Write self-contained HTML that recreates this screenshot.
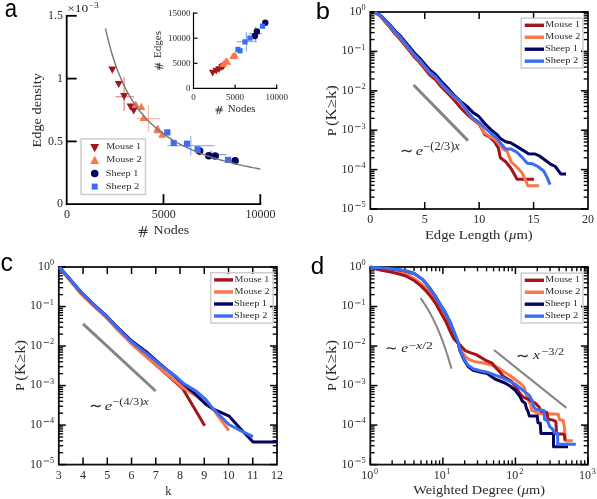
<!DOCTYPE html>
<html><head><meta charset="utf-8"><style>
html,body{margin:0;padding:0;background:#fff;}
body{width:597px;height:499px;overflow:hidden;}
svg{display:block;filter:blur(0.35px);}
</style></head><body>
<svg width="597" height="499" viewBox="0 0 597 499">
<text transform="translate(4.64,16.96) scale(0.8523,0.9754)" font-size="26" font-family="Liberation Sans" fill="#000" >a</text>
<text transform="translate(315.71,19.06) scale(0.9787,0.9412)" font-size="26" font-family="Liberation Sans" fill="#000" >b</text>
<text transform="translate(0.47,270.96) scale(0.9573,0.9754)" font-size="26" font-family="Liberation Sans" fill="#000" >c</text>
<text transform="translate(310.85,273.57) scale(0.9290,0.9307)" font-size="26" font-family="Liberation Sans" fill="#000" >d</text>
<text transform="translate(40.91,147.51) rotate(-90) scale(1.1039,0.9787)" font-size="13" font-family="Liberation Serif" fill="#2a2a2a" >Edge density</text>
<text transform="translate(153.60,234.48) scale(1.0749,0.9644)" font-size="13" font-family="Liberation Serif" fill="#2a2a2a" >Nodes</text>
<text transform="translate(424.88,239.14) scale(1.1327,1.0383)" font-size="13" font-family="Liberation Serif" fill="#2a2a2a" >Edge Length (<tspan font-style="italic">μ</tspan>m)</text>
<text transform="translate(413.20,494.14) scale(1.1104,1.0383)" font-size="13" font-family="Liberation Serif" fill="#2a2a2a" >Weighted Degree (<tspan font-style="italic">μ</tspan>m)</text>
<text transform="translate(165.16,494.70) scale(0.9440,1.0222)" font-size="13" font-family="Liberation Serif" fill="#2a2a2a" >k</text>
<text transform="translate(335.82,136.21) rotate(-90) scale(1.0980,0.9791)" font-size="13" font-family="Liberation Serif" fill="#2a2a2a" >P</text>
<text transform="translate(336.13,126.11) rotate(-90) scale(1.2951,1.0809)" font-size="13" font-family="Liberation Serif" fill="#2a2a2a" >(K≥k)</text>
<text transform="translate(24.22,390.96) rotate(-90) scale(1.0980,0.9791)" font-size="13" font-family="Liberation Serif" fill="#2a2a2a" >P</text>
<text transform="translate(24.53,380.86) rotate(-90) scale(1.2951,1.0809)" font-size="13" font-family="Liberation Serif" fill="#2a2a2a" >(K≥k)</text>
<text transform="translate(335.62,391.11) rotate(-90) scale(1.0980,0.9791)" font-size="13" font-family="Liberation Serif" fill="#2a2a2a" >P</text>
<text transform="translate(335.93,381.01) rotate(-90) scale(1.2951,1.0809)" font-size="13" font-family="Liberation Serif" fill="#2a2a2a" >(K≥k)</text>
<text transform="translate(227.73,112.47) scale(1.0894,1.0143)" font-size="10" font-family="Liberation Serif" fill="#2a2a2a" >Nodes</text>
<text transform="translate(161.48,58.08) rotate(-90) scale(1.1099,1.0444)" font-size="10" font-family="Liberation Serif" fill="#2a2a2a" >Edges</text>
<text transform="translate(106.13,149.29) scale(1.0615,0.9098)" font-size="9.5" font-family="Liberation Serif" fill="#2a2a2a" >Mouse 1</text>
<text transform="translate(106.13,162.49) scale(1.0729,0.9098)" font-size="9.5" font-family="Liberation Serif" fill="#2a2a2a" >Mouse 2</text>
<text transform="translate(105.73,176.14) scale(1.0747,0.8812)" font-size="9.5" font-family="Liberation Serif" fill="#2a2a2a" >Sheep 1</text>
<text transform="translate(105.70,188.77) scale(1.1124,0.9159)" font-size="9.5" font-family="Liberation Serif" fill="#2a2a2a" >Sheep 2</text>
<text transform="translate(545.34,27.29) scale(1.0521,0.8627)" font-size="9.5" font-family="Liberation Serif" fill="#2a2a2a" >Mouse 1</text>
<text transform="translate(545.33,39.39) scale(1.0636,0.8627)" font-size="9.5" font-family="Liberation Serif" fill="#2a2a2a" >Mouse 2</text>
<text transform="translate(544.92,51.36) scale(1.0850,0.8696)" font-size="9.5" font-family="Liberation Serif" fill="#2a2a2a" >Sheep 1</text>
<text transform="translate(544.91,63.31) scale(1.1021,0.8464)" font-size="9.5" font-family="Liberation Serif" fill="#2a2a2a" >Sheep 2</text>
<text transform="translate(234.54,281.99) scale(1.0521,0.8627)" font-size="9.5" font-family="Liberation Serif" fill="#2a2a2a" >Mouse 1</text>
<text transform="translate(234.53,294.09) scale(1.0636,0.8627)" font-size="9.5" font-family="Liberation Serif" fill="#2a2a2a" >Mouse 2</text>
<text transform="translate(234.12,306.06) scale(1.0850,0.8696)" font-size="9.5" font-family="Liberation Serif" fill="#2a2a2a" >Sheep 1</text>
<text transform="translate(234.11,318.01) scale(1.1021,0.8464)" font-size="9.5" font-family="Liberation Serif" fill="#2a2a2a" >Sheep 2</text>
<text transform="translate(545.34,282.29) scale(1.0521,0.8627)" font-size="9.5" font-family="Liberation Serif" fill="#2a2a2a" >Mouse 1</text>
<text transform="translate(545.33,294.39) scale(1.0636,0.8627)" font-size="9.5" font-family="Liberation Serif" fill="#2a2a2a" >Mouse 2</text>
<text transform="translate(544.92,306.36) scale(1.0850,0.8696)" font-size="9.5" font-family="Liberation Serif" fill="#2a2a2a" >Sheep 1</text>
<text transform="translate(544.91,318.31) scale(1.1021,0.8464)" font-size="9.5" font-family="Liberation Serif" fill="#2a2a2a" >Sheep 2</text>
<text transform="translate(399.50,156.45) scale(1.1314,1.1314)" font-size="14" font-family="Liberation Serif" fill="#2a2a2a" >∼</text>
<text transform="translate(415.80,154.78) scale(1.1907,0.9481)" font-size="14" font-family="Liberation Serif" fill="#2a2a2a" font-style="italic">e</text>
<text transform="translate(423.35,149.51) scale(1.2982,1.2471)" font-size="9.5" font-family="Liberation Serif" fill="#2a2a2a" >−(2/3)<tspan font-style="italic">x</tspan></text>
<text transform="translate(88.50,411.35) scale(1.1314,1.1314)" font-size="14" font-family="Liberation Serif" fill="#2a2a2a" >∼</text>
<text transform="translate(104.80,410.08) scale(1.1907,0.9481)" font-size="14" font-family="Liberation Serif" fill="#2a2a2a" font-style="italic">e</text>
<text transform="translate(112.35,404.95) scale(1.2982,1.1765)" font-size="9.5" font-family="Liberation Serif" fill="#2a2a2a" >−(4/3)<tspan font-style="italic">x</tspan></text>
<text transform="translate(385.17,353.35) scale(1.0857,1.0857)" font-size="14" font-family="Liberation Serif" fill="#2a2a2a" >∼</text>
<text transform="translate(401.35,352.18) scale(1.0977,0.9481)" font-size="14" font-family="Liberation Serif" fill="#2a2a2a" font-style="italic">e</text>
<text transform="translate(408.17,349.05) scale(1.4551,1.1608)" font-size="9.5" font-family="Liberation Serif" fill="#2a2a2a" >−<tspan font-style="italic">x</tspan>/2</text>
<text transform="translate(516.09,361.10) scale(1.1429,1.1429)" font-size="14" font-family="Liberation Serif" fill="#2a2a2a" >∼</text>
<text transform="translate(533.04,359.30) scale(1.1200,0.9255)" font-size="14" font-family="Liberation Serif" fill="#2a2a2a" font-style="italic">x</text>
<text transform="translate(541.35,355.35) scale(1.3030,1.1608)" font-size="9.5" font-family="Liberation Serif" fill="#2a2a2a" >−3/2</text>
<text transform="translate(67.13,11.88) scale(1.2283,0.9492)" font-size="11" font-family="Liberation Serif" fill="#2a2a2a" >×10</text>
<text transform="translate(88.55,7.90) scale(1.2000,0.9524)" font-size="8" font-family="Liberation Serif" fill="#2a2a2a" >−3</text>
<line x1="142.83" y1="226.20" x2="140.49" y2="237.10" stroke="#2a2a2a" stroke-width="1.0" />
<line x1="146.34" y1="226.20" x2="143.55" y2="237.10" stroke="#2a2a2a" stroke-width="1.0" />
<line x1="138.60" y1="230.34" x2="147.60" y2="230.34" stroke="#2a2a2a" stroke-width="1.0" />
<line x1="138.60" y1="232.52" x2="147.60" y2="232.52" stroke="#2a2a2a" stroke-width="1.0" />
<line x1="218.84" y1="105.90" x2="216.99" y2="114.20" stroke="#2a2a2a" stroke-width="0.85" />
<line x1="221.61" y1="105.90" x2="219.41" y2="114.20" stroke="#2a2a2a" stroke-width="0.85" />
<line x1="215.50" y1="109.05" x2="222.60" y2="109.05" stroke="#2a2a2a" stroke-width="0.85" />
<line x1="215.50" y1="110.71" x2="222.60" y2="110.71" stroke="#2a2a2a" stroke-width="0.85" />
<line x1="154.80" y1="66.56" x2="163.20" y2="68.35" stroke="#2a2a2a" stroke-width="0.85" />
<line x1="154.80" y1="63.87" x2="163.20" y2="66.00" stroke="#2a2a2a" stroke-width="0.85" />
<line x1="157.99" y1="69.80" x2="157.99" y2="62.90" stroke="#2a2a2a" stroke-width="0.85" />
<line x1="159.67" y1="69.80" x2="159.67" y2="62.90" stroke="#2a2a2a" stroke-width="0.85" />
<line x1="66.70" y1="14.90" x2="66.70" y2="205.10" stroke="#000" stroke-width="1.8" />
<line x1="65.80" y1="204.20" x2="261.20" y2="204.20" stroke="#000" stroke-width="1.8" />
<line x1="66.70" y1="141.40" x2="76.70" y2="141.40" stroke="#000" stroke-width="1.8" />
<line x1="66.70" y1="78.60" x2="76.70" y2="78.60" stroke="#000" stroke-width="1.8" />
<line x1="66.70" y1="15.80" x2="76.70" y2="15.80" stroke="#000" stroke-width="1.8" />
<line x1="163.50" y1="204.20" x2="163.50" y2="194.20" stroke="#000" stroke-width="1.8" />
<line x1="260.30" y1="204.20" x2="260.30" y2="194.20" stroke="#000" stroke-width="1.8" />
<text x="63.00" y="207.30" font-size="12" text-anchor="end" font-family="Liberation Serif" fill="#2a2a2a">0</text>
<text x="63.00" y="144.50" font-size="12" text-anchor="end" font-family="Liberation Serif" fill="#2a2a2a">0.5</text>
<text x="63.00" y="81.70" font-size="12" text-anchor="end" font-family="Liberation Serif" fill="#2a2a2a">1</text>
<text x="63.00" y="18.90" font-size="12" text-anchor="end" font-family="Liberation Serif" fill="#2a2a2a">1.5</text>
<text x="66.90" y="218.00" font-size="12" text-anchor="middle" font-family="Liberation Serif" fill="#2a2a2a" >0</text>
<text x="163.70" y="218.00" font-size="12" text-anchor="middle" font-family="Liberation Serif" fill="#2a2a2a" >5000</text>
<text x="260.50" y="218.00" font-size="12" text-anchor="middle" font-family="Liberation Serif" fill="#2a2a2a" >10000</text>
<g stroke="#d43a3a" stroke-width="1.2" opacity="0.6"><line x1="115.4" y1="96.7" x2="134" y2="96.7"/><line x1="124.1" y1="76.8" x2="124.1" y2="111.2"/></g>
<g stroke="#fb9b7a" stroke-width="1.2" opacity="0.7"><line x1="136.7" y1="118.6" x2="159.6" y2="118.6"/><line x1="148.4" y1="105.6" x2="148.4" y2="131.7"/></g>
<g stroke="#6f93f5" stroke-width="1.2" opacity="0.7"><line x1="167.3" y1="145.7" x2="214.6" y2="145.7"/><line x1="190.8" y1="136" x2="190.8" y2="155.6"/></g>
<g stroke="#5050a0" stroke-width="1.2" opacity="0.6"><line x1="205" y1="154.6" x2="226.3" y2="154.6"/><line x1="211" y1="150.5" x2="211" y2="158"/></g>
<polygon points="108.3,66.5 116.3,66.5 112.3,73.7" fill="#a3141c"/>
<polygon points="114.7,80.9 122.7,80.9 118.7,88.1" fill="#a3141c"/>
<polygon points="120.1,93.1 128.1,93.1 124.1,100.3" fill="#a3141c"/>
<polygon points="126.5,103.4 134.5,103.4 130.5,110.6" fill="#a3141c"/>
<polygon points="129.7,107.4 137.7,107.4 133.7,114.6" fill="#a3141c"/>
<polygon points="131.8,107.8 139.8,107.8 135.8,100.6" fill="#f9774a"/>
<polygon points="137.4,109.9 145.4,109.9 141.4,102.7" fill="#f9774a"/>
<polygon points="139.5,121.1 147.5,121.1 143.5,113.9" fill="#f9774a"/>
<polygon points="153.5,133.2 161.5,133.2 157.5,126.0" fill="#f9774a"/>
<polygon points="158.2,137.7 166.2,137.7 162.2,130.5" fill="#f9774a"/>
<polygon points="153.5,131.6 161.5,131.6 157.5,124.4" fill="#f9774a"/>
<circle cx="199.6" cy="151.1" r="3.8" fill="#05055c"/>
<circle cx="208.8" cy="155.8" r="3.8" fill="#05055c"/>
<circle cx="215.2" cy="156.0" r="3.8" fill="#05055c"/>
<circle cx="235.1" cy="160.7" r="3.8" fill="#05055c"/>
<rect x="164.2" y="129.3" width="6.2" height="6.2" fill="#3a6df2"/>
<rect x="170.6" y="139.9" width="6.2" height="6.2" fill="#3a6df2"/>
<rect x="183.9" y="140.6" width="6.2" height="6.2" fill="#3a6df2"/>
<rect x="194.5" y="146.2" width="6.2" height="6.2" fill="#3a6df2"/>
<rect x="225.0" y="156.8" width="6.2" height="6.2" fill="#3a6df2"/>
<polyline points="105.4,28.4 107.4,36.7 109.3,44.3 111.2,51.3 113.2,57.7 115.1,63.5 117.0,68.9 119.0,73.9 120.9,78.6 122.8,82.9 124.8,87.0 126.7,90.8 128.7,94.3 130.6,97.6 132.5,100.8 134.5,103.7 136.4,106.5 138.3,109.2 140.3,111.7 142.2,114.0 144.1,116.3 146.1,118.4 148.0,120.5 149.9,122.4 151.9,124.3 153.8,126.0 155.8,127.7 157.7,129.4 159.6,130.9 161.6,132.4 163.5,133.9 165.4,135.2 167.4,136.6 169.3,137.8 171.2,139.1 173.2,140.3 175.1,141.4 177.1,142.5 179.0,143.6 180.9,144.6 182.9,145.6 184.8,146.5 186.7,147.5 188.7,148.4 190.6,149.2 192.5,150.1 194.5,150.9 196.4,151.7 198.3,152.5 200.3,153.2 202.2,154.0 204.2,154.7 206.1,155.4 208.0,156.0 210.0,156.7 211.9,157.3 213.8,157.9 215.8,158.5 217.7,159.1 219.6,159.7 221.6,160.2 223.5,160.8 225.5,161.3 227.4,161.8 229.3,162.3 231.3,162.8 233.2,163.3 235.1,163.8 237.1,164.2 239.0,164.7 240.9,165.1 242.9,165.6 244.8,166.0 246.7,166.4 248.7,166.8 250.6,167.2 252.6,167.6 254.5,167.9 256.4,168.3 258.4,168.7 260.3,169.0" fill="none" stroke="#767676" stroke-width="1.4" stroke-linejoin="round" stroke-linecap="butt" />
<rect x="81" y="139" width="64.5" height="55.5" fill="none" stroke="#cdcdcd" stroke-width="1.5"/>
<polygon points="90.2,144.0 99.2,144.0 94.7,152.2" fill="#a3141c"/>
<polygon points="90.2,163.9 99.2,163.9 94.7,155.8" fill="#f9774a"/>
<circle cx="94.7" cy="173.5" r="3.8" fill="#05055c"/>
<rect x="91.7" y="183.6" width="6" height="6" fill="#3a6df2"/>
<line x1="193.50" y1="12.50" x2="193.50" y2="89.00" stroke="#000" stroke-width="1.2" />
<line x1="192.90" y1="88.40" x2="277.30" y2="88.40" stroke="#000" stroke-width="1.2" />
<line x1="193.50" y1="63.30" x2="197.50" y2="63.30" stroke="#000" stroke-width="1.2" />
<line x1="193.50" y1="38.20" x2="197.50" y2="38.20" stroke="#000" stroke-width="1.2" />
<line x1="193.50" y1="13.10" x2="197.50" y2="13.10" stroke="#000" stroke-width="1.2" />
<line x1="235.10" y1="88.40" x2="235.10" y2="84.40" stroke="#000" stroke-width="1.2" />
<line x1="276.70" y1="88.40" x2="276.70" y2="84.40" stroke="#000" stroke-width="1.2" />
<text x="190.60" y="91.00" font-size="9" text-anchor="end" font-family="Liberation Serif" fill="#2a2a2a" >0</text>
<text x="190.60" y="65.90" font-size="9" text-anchor="end" font-family="Liberation Serif" fill="#2a2a2a" >5000</text>
<text x="190.60" y="40.80" font-size="9" text-anchor="end" font-family="Liberation Serif" fill="#2a2a2a" >10000</text>
<text x="190.60" y="15.70" font-size="9" text-anchor="end" font-family="Liberation Serif" fill="#2a2a2a" >15000</text>
<text x="193.50" y="100.00" font-size="9" text-anchor="middle" font-family="Liberation Serif" fill="#2a2a2a" >0</text>
<text x="235.10" y="100.00" font-size="9" text-anchor="middle" font-family="Liberation Serif" fill="#2a2a2a" >5000</text>
<text x="276.70" y="100.00" font-size="9" text-anchor="middle" font-family="Liberation Serif" fill="#2a2a2a" >10000</text>
<g stroke="#6f93f5" stroke-width="1.2" opacity="0.75"><line x1="236.6" y1="41.6" x2="256.9" y2="41.6"/><line x1="246.4" y1="31.8" x2="246.4" y2="51.5"/></g>
<g stroke="#5050a0" stroke-width="1.2" opacity="0.6"><line x1="249.2" y1="33.7" x2="261.8" y2="33.7"/><line x1="255.5" y1="26.9" x2="255.5" y2="41"/></g>
<polygon points="208.9,69.8 216.4,69.8 212.7,76.6" fill="#a3141c"/>
<polygon points="212.4,67.7 219.9,67.7 216.2,74.5" fill="#a3141c"/>
<polygon points="215.2,66.3 222.8,66.3 219.0,73.1" fill="#a3141c"/>
<polygon points="218.1,64.2 225.6,64.2 221.8,71.0" fill="#a3141c"/>
<polygon points="219.8,63.1 227.2,63.1 223.5,69.9" fill="#a3141c"/>
<polygon points="219.4,67.0 226.9,67.0 223.2,60.2" fill="#f9774a"/>
<polygon points="222.2,64.0 229.8,64.0 226.0,57.2" fill="#f9774a"/>
<polygon points="223.7,64.7 231.2,64.7 227.4,57.9" fill="#f9774a"/>
<polygon points="229.2,59.1 236.8,59.1 233.0,52.3" fill="#f9774a"/>
<polygon points="231.4,58.4 238.9,58.4 235.2,51.6" fill="#f9774a"/>
<circle cx="254.8" cy="36.0" r="3.2" fill="#05055c"/>
<circle cx="256.9" cy="31.5" r="3.2" fill="#05055c"/>
<circle cx="265.3" cy="22.7" r="3.2" fill="#05055c"/>
<rect x="235.4" y="46.8" width="5.2" height="5.2" fill="#3a6df2"/>
<rect x="237.4" y="48.2" width="5.2" height="5.2" fill="#3a6df2"/>
<rect x="242.4" y="39.3" width="5.2" height="5.2" fill="#3a6df2"/>
<rect x="247.3" y="35.5" width="5.2" height="5.2" fill="#3a6df2"/>
<rect x="259.9" y="23.6" width="5.2" height="5.2" fill="#3a6df2"/>
<rect x="370.3" y="12" width="217.7" height="197" fill="none" stroke="#111" stroke-width="1.8"/>
<line x1="370.30" y1="12.00" x2="377.30" y2="12.00" stroke="#000" stroke-width="1.5" />
<line x1="588.00" y1="12.00" x2="581.00" y2="12.00" stroke="#000" stroke-width="1.5" />
<line x1="370.30" y1="39.54" x2="374.60" y2="39.54" stroke="#000" stroke-width="1.35" />
<line x1="588.00" y1="39.54" x2="583.70" y2="39.54" stroke="#000" stroke-width="1.35" />
<line x1="370.30" y1="32.60" x2="374.60" y2="32.60" stroke="#000" stroke-width="1.35" />
<line x1="588.00" y1="32.60" x2="583.70" y2="32.60" stroke="#000" stroke-width="1.35" />
<line x1="370.30" y1="27.68" x2="374.60" y2="27.68" stroke="#000" stroke-width="1.35" />
<line x1="588.00" y1="27.68" x2="583.70" y2="27.68" stroke="#000" stroke-width="1.35" />
<line x1="370.30" y1="23.86" x2="374.60" y2="23.86" stroke="#000" stroke-width="1.35" />
<line x1="588.00" y1="23.86" x2="583.70" y2="23.86" stroke="#000" stroke-width="1.35" />
<line x1="370.30" y1="20.74" x2="374.60" y2="20.74" stroke="#000" stroke-width="1.35" />
<line x1="588.00" y1="20.74" x2="583.70" y2="20.74" stroke="#000" stroke-width="1.35" />
<line x1="370.30" y1="18.10" x2="374.60" y2="18.10" stroke="#000" stroke-width="1.35" />
<line x1="588.00" y1="18.10" x2="583.70" y2="18.10" stroke="#000" stroke-width="1.35" />
<line x1="370.30" y1="15.82" x2="374.60" y2="15.82" stroke="#000" stroke-width="1.35" />
<line x1="588.00" y1="15.82" x2="583.70" y2="15.82" stroke="#000" stroke-width="1.35" />
<line x1="370.30" y1="13.80" x2="374.60" y2="13.80" stroke="#000" stroke-width="1.35" />
<line x1="588.00" y1="13.80" x2="583.70" y2="13.80" stroke="#000" stroke-width="1.35" />
<line x1="370.30" y1="51.40" x2="377.30" y2="51.40" stroke="#000" stroke-width="1.5" />
<line x1="588.00" y1="51.40" x2="581.00" y2="51.40" stroke="#000" stroke-width="1.5" />
<line x1="370.30" y1="78.94" x2="374.60" y2="78.94" stroke="#000" stroke-width="1.35" />
<line x1="588.00" y1="78.94" x2="583.70" y2="78.94" stroke="#000" stroke-width="1.35" />
<line x1="370.30" y1="72.00" x2="374.60" y2="72.00" stroke="#000" stroke-width="1.35" />
<line x1="588.00" y1="72.00" x2="583.70" y2="72.00" stroke="#000" stroke-width="1.35" />
<line x1="370.30" y1="67.08" x2="374.60" y2="67.08" stroke="#000" stroke-width="1.35" />
<line x1="588.00" y1="67.08" x2="583.70" y2="67.08" stroke="#000" stroke-width="1.35" />
<line x1="370.30" y1="63.26" x2="374.60" y2="63.26" stroke="#000" stroke-width="1.35" />
<line x1="588.00" y1="63.26" x2="583.70" y2="63.26" stroke="#000" stroke-width="1.35" />
<line x1="370.30" y1="60.14" x2="374.60" y2="60.14" stroke="#000" stroke-width="1.35" />
<line x1="588.00" y1="60.14" x2="583.70" y2="60.14" stroke="#000" stroke-width="1.35" />
<line x1="370.30" y1="57.50" x2="374.60" y2="57.50" stroke="#000" stroke-width="1.35" />
<line x1="588.00" y1="57.50" x2="583.70" y2="57.50" stroke="#000" stroke-width="1.35" />
<line x1="370.30" y1="55.22" x2="374.60" y2="55.22" stroke="#000" stroke-width="1.35" />
<line x1="588.00" y1="55.22" x2="583.70" y2="55.22" stroke="#000" stroke-width="1.35" />
<line x1="370.30" y1="53.20" x2="374.60" y2="53.20" stroke="#000" stroke-width="1.35" />
<line x1="588.00" y1="53.20" x2="583.70" y2="53.20" stroke="#000" stroke-width="1.35" />
<line x1="370.30" y1="90.80" x2="377.30" y2="90.80" stroke="#000" stroke-width="1.5" />
<line x1="588.00" y1="90.80" x2="581.00" y2="90.80" stroke="#000" stroke-width="1.5" />
<line x1="370.30" y1="118.34" x2="374.60" y2="118.34" stroke="#000" stroke-width="1.35" />
<line x1="588.00" y1="118.34" x2="583.70" y2="118.34" stroke="#000" stroke-width="1.35" />
<line x1="370.30" y1="111.40" x2="374.60" y2="111.40" stroke="#000" stroke-width="1.35" />
<line x1="588.00" y1="111.40" x2="583.70" y2="111.40" stroke="#000" stroke-width="1.35" />
<line x1="370.30" y1="106.48" x2="374.60" y2="106.48" stroke="#000" stroke-width="1.35" />
<line x1="588.00" y1="106.48" x2="583.70" y2="106.48" stroke="#000" stroke-width="1.35" />
<line x1="370.30" y1="102.66" x2="374.60" y2="102.66" stroke="#000" stroke-width="1.35" />
<line x1="588.00" y1="102.66" x2="583.70" y2="102.66" stroke="#000" stroke-width="1.35" />
<line x1="370.30" y1="99.54" x2="374.60" y2="99.54" stroke="#000" stroke-width="1.35" />
<line x1="588.00" y1="99.54" x2="583.70" y2="99.54" stroke="#000" stroke-width="1.35" />
<line x1="370.30" y1="96.90" x2="374.60" y2="96.90" stroke="#000" stroke-width="1.35" />
<line x1="588.00" y1="96.90" x2="583.70" y2="96.90" stroke="#000" stroke-width="1.35" />
<line x1="370.30" y1="94.62" x2="374.60" y2="94.62" stroke="#000" stroke-width="1.35" />
<line x1="588.00" y1="94.62" x2="583.70" y2="94.62" stroke="#000" stroke-width="1.35" />
<line x1="370.30" y1="92.60" x2="374.60" y2="92.60" stroke="#000" stroke-width="1.35" />
<line x1="588.00" y1="92.60" x2="583.70" y2="92.60" stroke="#000" stroke-width="1.35" />
<line x1="370.30" y1="130.20" x2="377.30" y2="130.20" stroke="#000" stroke-width="1.5" />
<line x1="588.00" y1="130.20" x2="581.00" y2="130.20" stroke="#000" stroke-width="1.5" />
<line x1="370.30" y1="157.74" x2="374.60" y2="157.74" stroke="#000" stroke-width="1.35" />
<line x1="588.00" y1="157.74" x2="583.70" y2="157.74" stroke="#000" stroke-width="1.35" />
<line x1="370.30" y1="150.80" x2="374.60" y2="150.80" stroke="#000" stroke-width="1.35" />
<line x1="588.00" y1="150.80" x2="583.70" y2="150.80" stroke="#000" stroke-width="1.35" />
<line x1="370.30" y1="145.88" x2="374.60" y2="145.88" stroke="#000" stroke-width="1.35" />
<line x1="588.00" y1="145.88" x2="583.70" y2="145.88" stroke="#000" stroke-width="1.35" />
<line x1="370.30" y1="142.06" x2="374.60" y2="142.06" stroke="#000" stroke-width="1.35" />
<line x1="588.00" y1="142.06" x2="583.70" y2="142.06" stroke="#000" stroke-width="1.35" />
<line x1="370.30" y1="138.94" x2="374.60" y2="138.94" stroke="#000" stroke-width="1.35" />
<line x1="588.00" y1="138.94" x2="583.70" y2="138.94" stroke="#000" stroke-width="1.35" />
<line x1="370.30" y1="136.30" x2="374.60" y2="136.30" stroke="#000" stroke-width="1.35" />
<line x1="588.00" y1="136.30" x2="583.70" y2="136.30" stroke="#000" stroke-width="1.35" />
<line x1="370.30" y1="134.02" x2="374.60" y2="134.02" stroke="#000" stroke-width="1.35" />
<line x1="588.00" y1="134.02" x2="583.70" y2="134.02" stroke="#000" stroke-width="1.35" />
<line x1="370.30" y1="132.00" x2="374.60" y2="132.00" stroke="#000" stroke-width="1.35" />
<line x1="588.00" y1="132.00" x2="583.70" y2="132.00" stroke="#000" stroke-width="1.35" />
<line x1="370.30" y1="169.60" x2="377.30" y2="169.60" stroke="#000" stroke-width="1.5" />
<line x1="588.00" y1="169.60" x2="581.00" y2="169.60" stroke="#000" stroke-width="1.5" />
<line x1="370.30" y1="197.14" x2="374.60" y2="197.14" stroke="#000" stroke-width="1.35" />
<line x1="588.00" y1="197.14" x2="583.70" y2="197.14" stroke="#000" stroke-width="1.35" />
<line x1="370.30" y1="190.20" x2="374.60" y2="190.20" stroke="#000" stroke-width="1.35" />
<line x1="588.00" y1="190.20" x2="583.70" y2="190.20" stroke="#000" stroke-width="1.35" />
<line x1="370.30" y1="185.28" x2="374.60" y2="185.28" stroke="#000" stroke-width="1.35" />
<line x1="588.00" y1="185.28" x2="583.70" y2="185.28" stroke="#000" stroke-width="1.35" />
<line x1="370.30" y1="181.46" x2="374.60" y2="181.46" stroke="#000" stroke-width="1.35" />
<line x1="588.00" y1="181.46" x2="583.70" y2="181.46" stroke="#000" stroke-width="1.35" />
<line x1="370.30" y1="178.34" x2="374.60" y2="178.34" stroke="#000" stroke-width="1.35" />
<line x1="588.00" y1="178.34" x2="583.70" y2="178.34" stroke="#000" stroke-width="1.35" />
<line x1="370.30" y1="175.70" x2="374.60" y2="175.70" stroke="#000" stroke-width="1.35" />
<line x1="588.00" y1="175.70" x2="583.70" y2="175.70" stroke="#000" stroke-width="1.35" />
<line x1="370.30" y1="173.42" x2="374.60" y2="173.42" stroke="#000" stroke-width="1.35" />
<line x1="588.00" y1="173.42" x2="583.70" y2="173.42" stroke="#000" stroke-width="1.35" />
<line x1="370.30" y1="171.40" x2="374.60" y2="171.40" stroke="#000" stroke-width="1.35" />
<line x1="588.00" y1="171.40" x2="583.70" y2="171.40" stroke="#000" stroke-width="1.35" />
<line x1="370.30" y1="209.00" x2="377.30" y2="209.00" stroke="#000" stroke-width="1.5" />
<line x1="588.00" y1="209.00" x2="581.00" y2="209.00" stroke="#000" stroke-width="1.5" />
<text x="349.40" y="14.90" font-size="12" font-family="Liberation Serif" fill="#2a2a2a">10</text>
<text x="361.55" y="10.40" font-size="8.2" font-family="Liberation Serif" fill="#2a2a2a">0</text>
<text x="341.60" y="54.30" font-size="12" font-family="Liberation Serif" fill="#2a2a2a">10</text>
<line x1="355.20" y1="47.80" x2="360.60" y2="47.80" stroke="#1e1e1e" stroke-width="0.75" />
<text x="361.20" y="49.80" font-size="8.2" font-family="Liberation Serif" fill="#2a2a2a">1</text>
<text x="341.60" y="93.70" font-size="12" font-family="Liberation Serif" fill="#2a2a2a">10</text>
<line x1="355.20" y1="87.20" x2="360.60" y2="87.20" stroke="#1e1e1e" stroke-width="0.75" />
<text x="361.60" y="89.20" font-size="8.2" font-family="Liberation Serif" fill="#2a2a2a">2</text>
<text x="341.60" y="133.10" font-size="12" font-family="Liberation Serif" fill="#2a2a2a">10</text>
<line x1="355.20" y1="126.60" x2="360.60" y2="126.60" stroke="#1e1e1e" stroke-width="0.75" />
<text x="361.60" y="128.60" font-size="8.2" font-family="Liberation Serif" fill="#2a2a2a">3</text>
<text x="341.60" y="172.50" font-size="12" font-family="Liberation Serif" fill="#2a2a2a">10</text>
<line x1="355.20" y1="166.00" x2="360.60" y2="166.00" stroke="#1e1e1e" stroke-width="0.75" />
<text x="361.60" y="168.00" font-size="8.2" font-family="Liberation Serif" fill="#2a2a2a">4</text>
<text x="341.60" y="211.90" font-size="12" font-family="Liberation Serif" fill="#2a2a2a">10</text>
<line x1="355.20" y1="205.40" x2="360.60" y2="205.40" stroke="#1e1e1e" stroke-width="0.75" />
<text x="361.60" y="207.40" font-size="8.2" font-family="Liberation Serif" fill="#2a2a2a">5</text>
<line x1="424.73" y1="209.00" x2="424.73" y2="202.00" stroke="#000" stroke-width="1.5" />
<line x1="424.73" y1="12.00" x2="424.73" y2="19.00" stroke="#000" stroke-width="1.5" />
<line x1="479.15" y1="209.00" x2="479.15" y2="202.00" stroke="#000" stroke-width="1.5" />
<line x1="479.15" y1="12.00" x2="479.15" y2="19.00" stroke="#000" stroke-width="1.5" />
<line x1="533.58" y1="209.00" x2="533.58" y2="202.00" stroke="#000" stroke-width="1.5" />
<line x1="533.58" y1="12.00" x2="533.58" y2="19.00" stroke="#000" stroke-width="1.5" />
<text x="370.30" y="223.10" font-size="12" text-anchor="middle" font-family="Liberation Serif" fill="#2a2a2a" >0</text>
<text x="424.73" y="223.10" font-size="12" text-anchor="middle" font-family="Liberation Serif" fill="#2a2a2a" >5</text>
<text x="479.15" y="223.10" font-size="12" text-anchor="middle" font-family="Liberation Serif" fill="#2a2a2a" >10</text>
<text x="533.58" y="223.10" font-size="12" text-anchor="middle" font-family="Liberation Serif" fill="#2a2a2a" >15</text>
<text x="588.00" y="223.10" font-size="12" text-anchor="middle" font-family="Liberation Serif" fill="#2a2a2a" >20</text>
<polyline points="413.6,85.0 468.0,140.6" fill="none" stroke="#858585" stroke-width="3" stroke-linejoin="round" stroke-linecap="butt" />
<polyline points="374.8,12.2 380.8,16.5 385.6,22.5 390.4,27.8 395.2,34.0 400.0,39.0 404.9,45.0 409.7,51.2 414.5,57.2 419.3,62.0 423.4,67.0 429.4,74.5 435.4,79.5 441.4,87.0 447.5,93.0 455.0,101.0 461.0,108.2 467.0,114.2 473.0,119.6 479.0,123.8 485.0,134.7 489.9,137.1 494.7,141.9 498.3,147.9 500.4,157.8 505.7,161.8 511.1,168.5 517.1,179.2 533.9,179.2" fill="none" stroke="#a3141c" stroke-width="3" stroke-linejoin="round" stroke-linecap="butt" />
<polyline points="374.8,12.2 380.8,16.4 385.6,21.8 390.4,26.6 395.2,32.6 400.0,37.4 404.9,43.5 409.7,49.5 414.5,55.5 419.3,60.3 423.4,65.2 429.4,72.4 435.4,77.2 441.4,84.4 447.5,90.5 453.5,96.5 459.5,101.3 467.0,111.2 473.0,119.0 479.0,122.6 483.8,132.3 488.7,135.9 493.5,138.3 498.3,143.1 503.1,149.1 507.1,151.1 511.1,161.8 516.4,166.5 521.8,172.5 525.2,179.2 527.8,185.7 539.2,185.7" fill="none" stroke="#f9774a" stroke-width="3" stroke-linejoin="round" stroke-linecap="butt" />
<polyline points="374.8,12.2 380.8,15.5 385.6,20.5 390.4,25.2 395.2,31.0 400.0,35.5 404.9,41.5 409.7,47.2 414.5,53.0 419.3,57.8 423.4,62.5 429.4,69.5 435.4,74.4 441.4,81.5 447.5,87.8 455.0,96.2 461.0,101.6 467.0,106.4 473.0,112.4 479.0,116.6 485.0,123.8 491.1,129.9 497.1,134.7 500.4,138.4 505.7,141.7 511.1,143.0 517.8,147.1 523.2,150.4 528.5,153.8 535.2,154.0 539.2,155.8 544.6,159.8 550.0,163.8 555.3,166.5 560.7,173.9 566.0,174.1" fill="none" stroke="#05055c" stroke-width="3" stroke-linejoin="round" stroke-linecap="butt" />
<polyline points="374.8,12.2 380.8,15.8 385.6,21.2 390.4,26.0 395.2,32.0 400.0,36.8 404.9,42.9 409.7,48.9 414.5,54.9 419.3,59.7 423.4,64.6 429.4,71.8 435.4,76.6 441.4,83.8 447.5,89.9 453.5,95.9 459.5,100.7 467.0,110.6 473.0,118.4 479.0,122.0 485.0,128.0 491.1,133.5 497.1,138.3 500.4,143.0 505.7,149.1 511.1,149.1 516.4,151.8 521.8,157.1 527.2,163.2 532.5,163.8 537.9,166.5 543.9,171.2 547.3,177.9 550.0,184.6" fill="none" stroke="#3a6df2" stroke-width="3" stroke-linejoin="round" stroke-linecap="butt" />
<rect x="521.2" y="18.1" width="61.8" height="49.9" fill="none" stroke="#cdcdcd" stroke-width="1.5"/>
<line x1="524.70" y1="25.30" x2="544.00" y2="25.30" stroke="#a3141c" stroke-width="3.4" />
<line x1="524.70" y1="37.25" x2="544.00" y2="37.25" stroke="#f9774a" stroke-width="3.4" />
<line x1="524.70" y1="49.20" x2="544.00" y2="49.20" stroke="#05055c" stroke-width="3.4" />
<line x1="524.70" y1="61.15" x2="544.00" y2="61.15" stroke="#3a6df2" stroke-width="3.4" />
<rect x="58.8" y="267" width="218.2" height="197.60000000000002" fill="none" stroke="#111" stroke-width="1.8"/>
<line x1="58.80" y1="267.00" x2="65.80" y2="267.00" stroke="#000" stroke-width="1.5" />
<line x1="277.00" y1="267.00" x2="270.00" y2="267.00" stroke="#000" stroke-width="1.5" />
<line x1="58.80" y1="294.62" x2="63.10" y2="294.62" stroke="#000" stroke-width="1.35" />
<line x1="277.00" y1="294.62" x2="272.70" y2="294.62" stroke="#000" stroke-width="1.35" />
<line x1="58.80" y1="287.66" x2="63.10" y2="287.66" stroke="#000" stroke-width="1.35" />
<line x1="277.00" y1="287.66" x2="272.70" y2="287.66" stroke="#000" stroke-width="1.35" />
<line x1="58.80" y1="282.73" x2="63.10" y2="282.73" stroke="#000" stroke-width="1.35" />
<line x1="277.00" y1="282.73" x2="272.70" y2="282.73" stroke="#000" stroke-width="1.35" />
<line x1="58.80" y1="278.90" x2="63.10" y2="278.90" stroke="#000" stroke-width="1.35" />
<line x1="277.00" y1="278.90" x2="272.70" y2="278.90" stroke="#000" stroke-width="1.35" />
<line x1="58.80" y1="275.77" x2="63.10" y2="275.77" stroke="#000" stroke-width="1.35" />
<line x1="277.00" y1="275.77" x2="272.70" y2="275.77" stroke="#000" stroke-width="1.35" />
<line x1="58.80" y1="273.12" x2="63.10" y2="273.12" stroke="#000" stroke-width="1.35" />
<line x1="277.00" y1="273.12" x2="272.70" y2="273.12" stroke="#000" stroke-width="1.35" />
<line x1="58.80" y1="270.83" x2="63.10" y2="270.83" stroke="#000" stroke-width="1.35" />
<line x1="277.00" y1="270.83" x2="272.70" y2="270.83" stroke="#000" stroke-width="1.35" />
<line x1="58.80" y1="268.81" x2="63.10" y2="268.81" stroke="#000" stroke-width="1.35" />
<line x1="277.00" y1="268.81" x2="272.70" y2="268.81" stroke="#000" stroke-width="1.35" />
<line x1="58.80" y1="306.52" x2="65.80" y2="306.52" stroke="#000" stroke-width="1.5" />
<line x1="277.00" y1="306.52" x2="270.00" y2="306.52" stroke="#000" stroke-width="1.5" />
<line x1="58.80" y1="334.14" x2="63.10" y2="334.14" stroke="#000" stroke-width="1.35" />
<line x1="277.00" y1="334.14" x2="272.70" y2="334.14" stroke="#000" stroke-width="1.35" />
<line x1="58.80" y1="327.18" x2="63.10" y2="327.18" stroke="#000" stroke-width="1.35" />
<line x1="277.00" y1="327.18" x2="272.70" y2="327.18" stroke="#000" stroke-width="1.35" />
<line x1="58.80" y1="322.25" x2="63.10" y2="322.25" stroke="#000" stroke-width="1.35" />
<line x1="277.00" y1="322.25" x2="272.70" y2="322.25" stroke="#000" stroke-width="1.35" />
<line x1="58.80" y1="318.42" x2="63.10" y2="318.42" stroke="#000" stroke-width="1.35" />
<line x1="277.00" y1="318.42" x2="272.70" y2="318.42" stroke="#000" stroke-width="1.35" />
<line x1="58.80" y1="315.29" x2="63.10" y2="315.29" stroke="#000" stroke-width="1.35" />
<line x1="277.00" y1="315.29" x2="272.70" y2="315.29" stroke="#000" stroke-width="1.35" />
<line x1="58.80" y1="312.64" x2="63.10" y2="312.64" stroke="#000" stroke-width="1.35" />
<line x1="277.00" y1="312.64" x2="272.70" y2="312.64" stroke="#000" stroke-width="1.35" />
<line x1="58.80" y1="310.35" x2="63.10" y2="310.35" stroke="#000" stroke-width="1.35" />
<line x1="277.00" y1="310.35" x2="272.70" y2="310.35" stroke="#000" stroke-width="1.35" />
<line x1="58.80" y1="308.33" x2="63.10" y2="308.33" stroke="#000" stroke-width="1.35" />
<line x1="277.00" y1="308.33" x2="272.70" y2="308.33" stroke="#000" stroke-width="1.35" />
<line x1="58.80" y1="346.04" x2="65.80" y2="346.04" stroke="#000" stroke-width="1.5" />
<line x1="277.00" y1="346.04" x2="270.00" y2="346.04" stroke="#000" stroke-width="1.5" />
<line x1="58.80" y1="373.66" x2="63.10" y2="373.66" stroke="#000" stroke-width="1.35" />
<line x1="277.00" y1="373.66" x2="272.70" y2="373.66" stroke="#000" stroke-width="1.35" />
<line x1="58.80" y1="366.70" x2="63.10" y2="366.70" stroke="#000" stroke-width="1.35" />
<line x1="277.00" y1="366.70" x2="272.70" y2="366.70" stroke="#000" stroke-width="1.35" />
<line x1="58.80" y1="361.77" x2="63.10" y2="361.77" stroke="#000" stroke-width="1.35" />
<line x1="277.00" y1="361.77" x2="272.70" y2="361.77" stroke="#000" stroke-width="1.35" />
<line x1="58.80" y1="357.94" x2="63.10" y2="357.94" stroke="#000" stroke-width="1.35" />
<line x1="277.00" y1="357.94" x2="272.70" y2="357.94" stroke="#000" stroke-width="1.35" />
<line x1="58.80" y1="354.81" x2="63.10" y2="354.81" stroke="#000" stroke-width="1.35" />
<line x1="277.00" y1="354.81" x2="272.70" y2="354.81" stroke="#000" stroke-width="1.35" />
<line x1="58.80" y1="352.16" x2="63.10" y2="352.16" stroke="#000" stroke-width="1.35" />
<line x1="277.00" y1="352.16" x2="272.70" y2="352.16" stroke="#000" stroke-width="1.35" />
<line x1="58.80" y1="349.87" x2="63.10" y2="349.87" stroke="#000" stroke-width="1.35" />
<line x1="277.00" y1="349.87" x2="272.70" y2="349.87" stroke="#000" stroke-width="1.35" />
<line x1="58.80" y1="347.85" x2="63.10" y2="347.85" stroke="#000" stroke-width="1.35" />
<line x1="277.00" y1="347.85" x2="272.70" y2="347.85" stroke="#000" stroke-width="1.35" />
<line x1="58.80" y1="385.56" x2="65.80" y2="385.56" stroke="#000" stroke-width="1.5" />
<line x1="277.00" y1="385.56" x2="270.00" y2="385.56" stroke="#000" stroke-width="1.5" />
<line x1="58.80" y1="413.18" x2="63.10" y2="413.18" stroke="#000" stroke-width="1.35" />
<line x1="277.00" y1="413.18" x2="272.70" y2="413.18" stroke="#000" stroke-width="1.35" />
<line x1="58.80" y1="406.22" x2="63.10" y2="406.22" stroke="#000" stroke-width="1.35" />
<line x1="277.00" y1="406.22" x2="272.70" y2="406.22" stroke="#000" stroke-width="1.35" />
<line x1="58.80" y1="401.29" x2="63.10" y2="401.29" stroke="#000" stroke-width="1.35" />
<line x1="277.00" y1="401.29" x2="272.70" y2="401.29" stroke="#000" stroke-width="1.35" />
<line x1="58.80" y1="397.46" x2="63.10" y2="397.46" stroke="#000" stroke-width="1.35" />
<line x1="277.00" y1="397.46" x2="272.70" y2="397.46" stroke="#000" stroke-width="1.35" />
<line x1="58.80" y1="394.33" x2="63.10" y2="394.33" stroke="#000" stroke-width="1.35" />
<line x1="277.00" y1="394.33" x2="272.70" y2="394.33" stroke="#000" stroke-width="1.35" />
<line x1="58.80" y1="391.68" x2="63.10" y2="391.68" stroke="#000" stroke-width="1.35" />
<line x1="277.00" y1="391.68" x2="272.70" y2="391.68" stroke="#000" stroke-width="1.35" />
<line x1="58.80" y1="389.39" x2="63.10" y2="389.39" stroke="#000" stroke-width="1.35" />
<line x1="277.00" y1="389.39" x2="272.70" y2="389.39" stroke="#000" stroke-width="1.35" />
<line x1="58.80" y1="387.37" x2="63.10" y2="387.37" stroke="#000" stroke-width="1.35" />
<line x1="277.00" y1="387.37" x2="272.70" y2="387.37" stroke="#000" stroke-width="1.35" />
<line x1="58.80" y1="425.08" x2="65.80" y2="425.08" stroke="#000" stroke-width="1.5" />
<line x1="277.00" y1="425.08" x2="270.00" y2="425.08" stroke="#000" stroke-width="1.5" />
<line x1="58.80" y1="452.70" x2="63.10" y2="452.70" stroke="#000" stroke-width="1.35" />
<line x1="277.00" y1="452.70" x2="272.70" y2="452.70" stroke="#000" stroke-width="1.35" />
<line x1="58.80" y1="445.74" x2="63.10" y2="445.74" stroke="#000" stroke-width="1.35" />
<line x1="277.00" y1="445.74" x2="272.70" y2="445.74" stroke="#000" stroke-width="1.35" />
<line x1="58.80" y1="440.81" x2="63.10" y2="440.81" stroke="#000" stroke-width="1.35" />
<line x1="277.00" y1="440.81" x2="272.70" y2="440.81" stroke="#000" stroke-width="1.35" />
<line x1="58.80" y1="436.98" x2="63.10" y2="436.98" stroke="#000" stroke-width="1.35" />
<line x1="277.00" y1="436.98" x2="272.70" y2="436.98" stroke="#000" stroke-width="1.35" />
<line x1="58.80" y1="433.85" x2="63.10" y2="433.85" stroke="#000" stroke-width="1.35" />
<line x1="277.00" y1="433.85" x2="272.70" y2="433.85" stroke="#000" stroke-width="1.35" />
<line x1="58.80" y1="431.20" x2="63.10" y2="431.20" stroke="#000" stroke-width="1.35" />
<line x1="277.00" y1="431.20" x2="272.70" y2="431.20" stroke="#000" stroke-width="1.35" />
<line x1="58.80" y1="428.91" x2="63.10" y2="428.91" stroke="#000" stroke-width="1.35" />
<line x1="277.00" y1="428.91" x2="272.70" y2="428.91" stroke="#000" stroke-width="1.35" />
<line x1="58.80" y1="426.89" x2="63.10" y2="426.89" stroke="#000" stroke-width="1.35" />
<line x1="277.00" y1="426.89" x2="272.70" y2="426.89" stroke="#000" stroke-width="1.35" />
<line x1="58.80" y1="464.60" x2="65.80" y2="464.60" stroke="#000" stroke-width="1.5" />
<line x1="277.00" y1="464.60" x2="270.00" y2="464.60" stroke="#000" stroke-width="1.5" />
<text x="37.90" y="269.90" font-size="12" font-family="Liberation Serif" fill="#2a2a2a">10</text>
<text x="50.05" y="265.40" font-size="8.2" font-family="Liberation Serif" fill="#2a2a2a">0</text>
<text x="30.10" y="309.42" font-size="12" font-family="Liberation Serif" fill="#2a2a2a">10</text>
<line x1="43.70" y1="302.92" x2="49.10" y2="302.92" stroke="#1e1e1e" stroke-width="0.75" />
<text x="49.70" y="304.92" font-size="8.2" font-family="Liberation Serif" fill="#2a2a2a">1</text>
<text x="30.10" y="348.94" font-size="12" font-family="Liberation Serif" fill="#2a2a2a">10</text>
<line x1="43.70" y1="342.44" x2="49.10" y2="342.44" stroke="#1e1e1e" stroke-width="0.75" />
<text x="50.10" y="344.44" font-size="8.2" font-family="Liberation Serif" fill="#2a2a2a">2</text>
<text x="30.10" y="388.46" font-size="12" font-family="Liberation Serif" fill="#2a2a2a">10</text>
<line x1="43.70" y1="381.96" x2="49.10" y2="381.96" stroke="#1e1e1e" stroke-width="0.75" />
<text x="50.10" y="383.96" font-size="8.2" font-family="Liberation Serif" fill="#2a2a2a">3</text>
<text x="30.10" y="427.98" font-size="12" font-family="Liberation Serif" fill="#2a2a2a">10</text>
<line x1="43.70" y1="421.48" x2="49.10" y2="421.48" stroke="#1e1e1e" stroke-width="0.75" />
<text x="50.10" y="423.48" font-size="8.2" font-family="Liberation Serif" fill="#2a2a2a">4</text>
<text x="30.10" y="467.50" font-size="12" font-family="Liberation Serif" fill="#2a2a2a">10</text>
<line x1="43.70" y1="461.00" x2="49.10" y2="461.00" stroke="#1e1e1e" stroke-width="0.75" />
<text x="50.10" y="463.00" font-size="8.2" font-family="Liberation Serif" fill="#2a2a2a">5</text>
<line x1="83.04" y1="464.60" x2="83.04" y2="457.60" stroke="#000" stroke-width="1.5" />
<line x1="83.04" y1="267.00" x2="83.04" y2="274.00" stroke="#000" stroke-width="1.5" />
<line x1="107.29" y1="464.60" x2="107.29" y2="457.60" stroke="#000" stroke-width="1.5" />
<line x1="107.29" y1="267.00" x2="107.29" y2="274.00" stroke="#000" stroke-width="1.5" />
<line x1="131.53" y1="464.60" x2="131.53" y2="457.60" stroke="#000" stroke-width="1.5" />
<line x1="131.53" y1="267.00" x2="131.53" y2="274.00" stroke="#000" stroke-width="1.5" />
<line x1="155.78" y1="464.60" x2="155.78" y2="457.60" stroke="#000" stroke-width="1.5" />
<line x1="155.78" y1="267.00" x2="155.78" y2="274.00" stroke="#000" stroke-width="1.5" />
<line x1="180.02" y1="464.60" x2="180.02" y2="457.60" stroke="#000" stroke-width="1.5" />
<line x1="180.02" y1="267.00" x2="180.02" y2="274.00" stroke="#000" stroke-width="1.5" />
<line x1="204.27" y1="464.60" x2="204.27" y2="457.60" stroke="#000" stroke-width="1.5" />
<line x1="204.27" y1="267.00" x2="204.27" y2="274.00" stroke="#000" stroke-width="1.5" />
<line x1="228.51" y1="464.60" x2="228.51" y2="457.60" stroke="#000" stroke-width="1.5" />
<line x1="228.51" y1="267.00" x2="228.51" y2="274.00" stroke="#000" stroke-width="1.5" />
<line x1="252.76" y1="464.60" x2="252.76" y2="457.60" stroke="#000" stroke-width="1.5" />
<line x1="252.76" y1="267.00" x2="252.76" y2="274.00" stroke="#000" stroke-width="1.5" />
<text x="58.80" y="478.80" font-size="12" text-anchor="middle" font-family="Liberation Serif" fill="#2a2a2a" >3</text>
<text x="83.04" y="478.80" font-size="12" text-anchor="middle" font-family="Liberation Serif" fill="#2a2a2a" >4</text>
<text x="107.29" y="478.80" font-size="12" text-anchor="middle" font-family="Liberation Serif" fill="#2a2a2a" >5</text>
<text x="131.53" y="478.80" font-size="12" text-anchor="middle" font-family="Liberation Serif" fill="#2a2a2a" >6</text>
<text x="155.78" y="478.80" font-size="12" text-anchor="middle" font-family="Liberation Serif" fill="#2a2a2a" >7</text>
<text x="180.02" y="478.80" font-size="12" text-anchor="middle" font-family="Liberation Serif" fill="#2a2a2a" >8</text>
<text x="204.27" y="478.80" font-size="12" text-anchor="middle" font-family="Liberation Serif" fill="#2a2a2a" >9</text>
<text x="228.51" y="478.80" font-size="12" text-anchor="middle" font-family="Liberation Serif" fill="#2a2a2a" >10</text>
<text x="252.76" y="478.80" font-size="12" text-anchor="middle" font-family="Liberation Serif" fill="#2a2a2a" >11</text>
<text x="277.00" y="478.80" font-size="12" text-anchor="middle" font-family="Liberation Serif" fill="#2a2a2a" >12</text>
<polyline points="83.0,323.9 155.6,391.0" fill="none" stroke="#858585" stroke-width="3" stroke-linejoin="round" stroke-linecap="butt" />
<polyline points="59.4,267.2 69.0,279.0 81.0,293.5 93.1,305.3 105.1,316.1 116.0,327.8 132.1,343.8 140.0,350.8 182.8,388.7 204.7,425.8" fill="none" stroke="#a3141c" stroke-width="3" stroke-linejoin="round" stroke-linecap="butt" />
<polyline points="59.4,267.2 69.0,279.2 81.0,293.8 93.1,305.5 105.1,316.3 116.0,328.1 132.1,344.3 140.0,351.3 183.0,387.7 196.1,395.9 208.1,405.5 213.4,409.7 228.8,430.5" fill="none" stroke="#f9774a" stroke-width="3" stroke-linejoin="round" stroke-linecap="butt" />
<polyline points="59.4,267.2 69.0,278.0 81.0,292.0 93.1,303.9 105.1,314.6 116.0,325.8 132.1,341.3 148.1,353.3 160.0,363.8 172.0,373.8 184.0,384.7 196.1,394.7 205.7,404.3 213.4,409.1 228.8,415.8 240.2,428.5 253.0,441.9 277.0,441.9" fill="none" stroke="#05055c" stroke-width="3" stroke-linejoin="round" stroke-linecap="butt" />
<polyline points="59.4,267.2 69.0,278.0 81.0,292.2 93.1,304.1 105.1,314.8 116.0,326.3 132.1,342.3 148.1,354.8 164.1,367.8 176.9,377.3 184.0,383.8 196.1,391.1 205.7,399.5 213.4,409.1 228.8,424.5 241.6,431.2 253.0,436.6" fill="none" stroke="#3a6df2" stroke-width="3" stroke-linejoin="round" stroke-linecap="butt" />
<rect x="210.8" y="272.7" width="62.5" height="50.4" fill="none" stroke="#cdcdcd" stroke-width="1.5"/>
<line x1="214.10" y1="279.90" x2="233.00" y2="279.90" stroke="#a3141c" stroke-width="3.4" />
<line x1="214.10" y1="291.95" x2="233.00" y2="291.95" stroke="#f9774a" stroke-width="3.4" />
<line x1="214.10" y1="304.00" x2="233.00" y2="304.00" stroke="#05055c" stroke-width="3.4" />
<line x1="214.10" y1="316.05" x2="233.00" y2="316.05" stroke="#3a6df2" stroke-width="3.4" />
<rect x="370.3" y="267" width="217.7" height="197.60000000000002" fill="none" stroke="#111" stroke-width="1.8"/>
<line x1="370.30" y1="267.00" x2="377.30" y2="267.00" stroke="#000" stroke-width="1.5" />
<line x1="588.00" y1="267.00" x2="581.00" y2="267.00" stroke="#000" stroke-width="1.5" />
<line x1="370.30" y1="294.62" x2="374.60" y2="294.62" stroke="#000" stroke-width="1.35" />
<line x1="588.00" y1="294.62" x2="583.70" y2="294.62" stroke="#000" stroke-width="1.35" />
<line x1="370.30" y1="287.66" x2="374.60" y2="287.66" stroke="#000" stroke-width="1.35" />
<line x1="588.00" y1="287.66" x2="583.70" y2="287.66" stroke="#000" stroke-width="1.35" />
<line x1="370.30" y1="282.73" x2="374.60" y2="282.73" stroke="#000" stroke-width="1.35" />
<line x1="588.00" y1="282.73" x2="583.70" y2="282.73" stroke="#000" stroke-width="1.35" />
<line x1="370.30" y1="278.90" x2="374.60" y2="278.90" stroke="#000" stroke-width="1.35" />
<line x1="588.00" y1="278.90" x2="583.70" y2="278.90" stroke="#000" stroke-width="1.35" />
<line x1="370.30" y1="275.77" x2="374.60" y2="275.77" stroke="#000" stroke-width="1.35" />
<line x1="588.00" y1="275.77" x2="583.70" y2="275.77" stroke="#000" stroke-width="1.35" />
<line x1="370.30" y1="273.12" x2="374.60" y2="273.12" stroke="#000" stroke-width="1.35" />
<line x1="588.00" y1="273.12" x2="583.70" y2="273.12" stroke="#000" stroke-width="1.35" />
<line x1="370.30" y1="270.83" x2="374.60" y2="270.83" stroke="#000" stroke-width="1.35" />
<line x1="588.00" y1="270.83" x2="583.70" y2="270.83" stroke="#000" stroke-width="1.35" />
<line x1="370.30" y1="268.81" x2="374.60" y2="268.81" stroke="#000" stroke-width="1.35" />
<line x1="588.00" y1="268.81" x2="583.70" y2="268.81" stroke="#000" stroke-width="1.35" />
<line x1="370.30" y1="306.52" x2="377.30" y2="306.52" stroke="#000" stroke-width="1.5" />
<line x1="588.00" y1="306.52" x2="581.00" y2="306.52" stroke="#000" stroke-width="1.5" />
<line x1="370.30" y1="334.14" x2="374.60" y2="334.14" stroke="#000" stroke-width="1.35" />
<line x1="588.00" y1="334.14" x2="583.70" y2="334.14" stroke="#000" stroke-width="1.35" />
<line x1="370.30" y1="327.18" x2="374.60" y2="327.18" stroke="#000" stroke-width="1.35" />
<line x1="588.00" y1="327.18" x2="583.70" y2="327.18" stroke="#000" stroke-width="1.35" />
<line x1="370.30" y1="322.25" x2="374.60" y2="322.25" stroke="#000" stroke-width="1.35" />
<line x1="588.00" y1="322.25" x2="583.70" y2="322.25" stroke="#000" stroke-width="1.35" />
<line x1="370.30" y1="318.42" x2="374.60" y2="318.42" stroke="#000" stroke-width="1.35" />
<line x1="588.00" y1="318.42" x2="583.70" y2="318.42" stroke="#000" stroke-width="1.35" />
<line x1="370.30" y1="315.29" x2="374.60" y2="315.29" stroke="#000" stroke-width="1.35" />
<line x1="588.00" y1="315.29" x2="583.70" y2="315.29" stroke="#000" stroke-width="1.35" />
<line x1="370.30" y1="312.64" x2="374.60" y2="312.64" stroke="#000" stroke-width="1.35" />
<line x1="588.00" y1="312.64" x2="583.70" y2="312.64" stroke="#000" stroke-width="1.35" />
<line x1="370.30" y1="310.35" x2="374.60" y2="310.35" stroke="#000" stroke-width="1.35" />
<line x1="588.00" y1="310.35" x2="583.70" y2="310.35" stroke="#000" stroke-width="1.35" />
<line x1="370.30" y1="308.33" x2="374.60" y2="308.33" stroke="#000" stroke-width="1.35" />
<line x1="588.00" y1="308.33" x2="583.70" y2="308.33" stroke="#000" stroke-width="1.35" />
<line x1="370.30" y1="346.04" x2="377.30" y2="346.04" stroke="#000" stroke-width="1.5" />
<line x1="588.00" y1="346.04" x2="581.00" y2="346.04" stroke="#000" stroke-width="1.5" />
<line x1="370.30" y1="373.66" x2="374.60" y2="373.66" stroke="#000" stroke-width="1.35" />
<line x1="588.00" y1="373.66" x2="583.70" y2="373.66" stroke="#000" stroke-width="1.35" />
<line x1="370.30" y1="366.70" x2="374.60" y2="366.70" stroke="#000" stroke-width="1.35" />
<line x1="588.00" y1="366.70" x2="583.70" y2="366.70" stroke="#000" stroke-width="1.35" />
<line x1="370.30" y1="361.77" x2="374.60" y2="361.77" stroke="#000" stroke-width="1.35" />
<line x1="588.00" y1="361.77" x2="583.70" y2="361.77" stroke="#000" stroke-width="1.35" />
<line x1="370.30" y1="357.94" x2="374.60" y2="357.94" stroke="#000" stroke-width="1.35" />
<line x1="588.00" y1="357.94" x2="583.70" y2="357.94" stroke="#000" stroke-width="1.35" />
<line x1="370.30" y1="354.81" x2="374.60" y2="354.81" stroke="#000" stroke-width="1.35" />
<line x1="588.00" y1="354.81" x2="583.70" y2="354.81" stroke="#000" stroke-width="1.35" />
<line x1="370.30" y1="352.16" x2="374.60" y2="352.16" stroke="#000" stroke-width="1.35" />
<line x1="588.00" y1="352.16" x2="583.70" y2="352.16" stroke="#000" stroke-width="1.35" />
<line x1="370.30" y1="349.87" x2="374.60" y2="349.87" stroke="#000" stroke-width="1.35" />
<line x1="588.00" y1="349.87" x2="583.70" y2="349.87" stroke="#000" stroke-width="1.35" />
<line x1="370.30" y1="347.85" x2="374.60" y2="347.85" stroke="#000" stroke-width="1.35" />
<line x1="588.00" y1="347.85" x2="583.70" y2="347.85" stroke="#000" stroke-width="1.35" />
<line x1="370.30" y1="385.56" x2="377.30" y2="385.56" stroke="#000" stroke-width="1.5" />
<line x1="588.00" y1="385.56" x2="581.00" y2="385.56" stroke="#000" stroke-width="1.5" />
<line x1="370.30" y1="413.18" x2="374.60" y2="413.18" stroke="#000" stroke-width="1.35" />
<line x1="588.00" y1="413.18" x2="583.70" y2="413.18" stroke="#000" stroke-width="1.35" />
<line x1="370.30" y1="406.22" x2="374.60" y2="406.22" stroke="#000" stroke-width="1.35" />
<line x1="588.00" y1="406.22" x2="583.70" y2="406.22" stroke="#000" stroke-width="1.35" />
<line x1="370.30" y1="401.29" x2="374.60" y2="401.29" stroke="#000" stroke-width="1.35" />
<line x1="588.00" y1="401.29" x2="583.70" y2="401.29" stroke="#000" stroke-width="1.35" />
<line x1="370.30" y1="397.46" x2="374.60" y2="397.46" stroke="#000" stroke-width="1.35" />
<line x1="588.00" y1="397.46" x2="583.70" y2="397.46" stroke="#000" stroke-width="1.35" />
<line x1="370.30" y1="394.33" x2="374.60" y2="394.33" stroke="#000" stroke-width="1.35" />
<line x1="588.00" y1="394.33" x2="583.70" y2="394.33" stroke="#000" stroke-width="1.35" />
<line x1="370.30" y1="391.68" x2="374.60" y2="391.68" stroke="#000" stroke-width="1.35" />
<line x1="588.00" y1="391.68" x2="583.70" y2="391.68" stroke="#000" stroke-width="1.35" />
<line x1="370.30" y1="389.39" x2="374.60" y2="389.39" stroke="#000" stroke-width="1.35" />
<line x1="588.00" y1="389.39" x2="583.70" y2="389.39" stroke="#000" stroke-width="1.35" />
<line x1="370.30" y1="387.37" x2="374.60" y2="387.37" stroke="#000" stroke-width="1.35" />
<line x1="588.00" y1="387.37" x2="583.70" y2="387.37" stroke="#000" stroke-width="1.35" />
<line x1="370.30" y1="425.08" x2="377.30" y2="425.08" stroke="#000" stroke-width="1.5" />
<line x1="588.00" y1="425.08" x2="581.00" y2="425.08" stroke="#000" stroke-width="1.5" />
<line x1="370.30" y1="452.70" x2="374.60" y2="452.70" stroke="#000" stroke-width="1.35" />
<line x1="588.00" y1="452.70" x2="583.70" y2="452.70" stroke="#000" stroke-width="1.35" />
<line x1="370.30" y1="445.74" x2="374.60" y2="445.74" stroke="#000" stroke-width="1.35" />
<line x1="588.00" y1="445.74" x2="583.70" y2="445.74" stroke="#000" stroke-width="1.35" />
<line x1="370.30" y1="440.81" x2="374.60" y2="440.81" stroke="#000" stroke-width="1.35" />
<line x1="588.00" y1="440.81" x2="583.70" y2="440.81" stroke="#000" stroke-width="1.35" />
<line x1="370.30" y1="436.98" x2="374.60" y2="436.98" stroke="#000" stroke-width="1.35" />
<line x1="588.00" y1="436.98" x2="583.70" y2="436.98" stroke="#000" stroke-width="1.35" />
<line x1="370.30" y1="433.85" x2="374.60" y2="433.85" stroke="#000" stroke-width="1.35" />
<line x1="588.00" y1="433.85" x2="583.70" y2="433.85" stroke="#000" stroke-width="1.35" />
<line x1="370.30" y1="431.20" x2="374.60" y2="431.20" stroke="#000" stroke-width="1.35" />
<line x1="588.00" y1="431.20" x2="583.70" y2="431.20" stroke="#000" stroke-width="1.35" />
<line x1="370.30" y1="428.91" x2="374.60" y2="428.91" stroke="#000" stroke-width="1.35" />
<line x1="588.00" y1="428.91" x2="583.70" y2="428.91" stroke="#000" stroke-width="1.35" />
<line x1="370.30" y1="426.89" x2="374.60" y2="426.89" stroke="#000" stroke-width="1.35" />
<line x1="588.00" y1="426.89" x2="583.70" y2="426.89" stroke="#000" stroke-width="1.35" />
<line x1="370.30" y1="464.60" x2="377.30" y2="464.60" stroke="#000" stroke-width="1.5" />
<line x1="588.00" y1="464.60" x2="581.00" y2="464.60" stroke="#000" stroke-width="1.5" />
<text x="349.40" y="269.90" font-size="12" font-family="Liberation Serif" fill="#2a2a2a">10</text>
<text x="361.55" y="265.40" font-size="8.2" font-family="Liberation Serif" fill="#2a2a2a">0</text>
<text x="341.60" y="309.42" font-size="12" font-family="Liberation Serif" fill="#2a2a2a">10</text>
<line x1="355.20" y1="302.92" x2="360.60" y2="302.92" stroke="#1e1e1e" stroke-width="0.75" />
<text x="361.20" y="304.92" font-size="8.2" font-family="Liberation Serif" fill="#2a2a2a">1</text>
<text x="341.60" y="348.94" font-size="12" font-family="Liberation Serif" fill="#2a2a2a">10</text>
<line x1="355.20" y1="342.44" x2="360.60" y2="342.44" stroke="#1e1e1e" stroke-width="0.75" />
<text x="361.60" y="344.44" font-size="8.2" font-family="Liberation Serif" fill="#2a2a2a">2</text>
<text x="341.60" y="388.46" font-size="12" font-family="Liberation Serif" fill="#2a2a2a">10</text>
<line x1="355.20" y1="381.96" x2="360.60" y2="381.96" stroke="#1e1e1e" stroke-width="0.75" />
<text x="361.60" y="383.96" font-size="8.2" font-family="Liberation Serif" fill="#2a2a2a">3</text>
<text x="341.60" y="427.98" font-size="12" font-family="Liberation Serif" fill="#2a2a2a">10</text>
<line x1="355.20" y1="421.48" x2="360.60" y2="421.48" stroke="#1e1e1e" stroke-width="0.75" />
<text x="361.60" y="423.48" font-size="8.2" font-family="Liberation Serif" fill="#2a2a2a">4</text>
<text x="341.60" y="467.50" font-size="12" font-family="Liberation Serif" fill="#2a2a2a">10</text>
<line x1="355.20" y1="461.00" x2="360.60" y2="461.00" stroke="#1e1e1e" stroke-width="0.75" />
<text x="361.60" y="463.00" font-size="8.2" font-family="Liberation Serif" fill="#2a2a2a">5</text>
<line x1="370.30" y1="464.60" x2="370.30" y2="457.60" stroke="#000" stroke-width="1.5" />
<line x1="370.30" y1="267.00" x2="370.30" y2="274.00" stroke="#000" stroke-width="1.5" />
<line x1="392.14" y1="464.60" x2="392.14" y2="460.30" stroke="#000" stroke-width="1.35" />
<line x1="392.14" y1="267.00" x2="392.14" y2="271.30" stroke="#000" stroke-width="1.35" />
<line x1="404.92" y1="464.60" x2="404.92" y2="460.30" stroke="#000" stroke-width="1.35" />
<line x1="404.92" y1="267.00" x2="404.92" y2="271.30" stroke="#000" stroke-width="1.35" />
<line x1="413.99" y1="464.60" x2="413.99" y2="460.30" stroke="#000" stroke-width="1.35" />
<line x1="413.99" y1="267.00" x2="413.99" y2="271.30" stroke="#000" stroke-width="1.35" />
<line x1="421.02" y1="464.60" x2="421.02" y2="460.30" stroke="#000" stroke-width="1.35" />
<line x1="421.02" y1="267.00" x2="421.02" y2="271.30" stroke="#000" stroke-width="1.35" />
<line x1="426.77" y1="464.60" x2="426.77" y2="460.30" stroke="#000" stroke-width="1.35" />
<line x1="426.77" y1="267.00" x2="426.77" y2="271.30" stroke="#000" stroke-width="1.35" />
<line x1="431.63" y1="464.60" x2="431.63" y2="460.30" stroke="#000" stroke-width="1.35" />
<line x1="431.63" y1="267.00" x2="431.63" y2="271.30" stroke="#000" stroke-width="1.35" />
<line x1="435.83" y1="464.60" x2="435.83" y2="460.30" stroke="#000" stroke-width="1.35" />
<line x1="435.83" y1="267.00" x2="435.83" y2="271.30" stroke="#000" stroke-width="1.35" />
<line x1="439.55" y1="464.60" x2="439.55" y2="460.30" stroke="#000" stroke-width="1.35" />
<line x1="439.55" y1="267.00" x2="439.55" y2="271.30" stroke="#000" stroke-width="1.35" />
<line x1="442.87" y1="464.60" x2="442.87" y2="457.60" stroke="#000" stroke-width="1.5" />
<line x1="442.87" y1="267.00" x2="442.87" y2="274.00" stroke="#000" stroke-width="1.5" />
<line x1="464.71" y1="464.60" x2="464.71" y2="460.30" stroke="#000" stroke-width="1.35" />
<line x1="464.71" y1="267.00" x2="464.71" y2="271.30" stroke="#000" stroke-width="1.35" />
<line x1="477.49" y1="464.60" x2="477.49" y2="460.30" stroke="#000" stroke-width="1.35" />
<line x1="477.49" y1="267.00" x2="477.49" y2="271.30" stroke="#000" stroke-width="1.35" />
<line x1="486.56" y1="464.60" x2="486.56" y2="460.30" stroke="#000" stroke-width="1.35" />
<line x1="486.56" y1="267.00" x2="486.56" y2="271.30" stroke="#000" stroke-width="1.35" />
<line x1="493.59" y1="464.60" x2="493.59" y2="460.30" stroke="#000" stroke-width="1.35" />
<line x1="493.59" y1="267.00" x2="493.59" y2="271.30" stroke="#000" stroke-width="1.35" />
<line x1="499.33" y1="464.60" x2="499.33" y2="460.30" stroke="#000" stroke-width="1.35" />
<line x1="499.33" y1="267.00" x2="499.33" y2="271.30" stroke="#000" stroke-width="1.35" />
<line x1="504.19" y1="464.60" x2="504.19" y2="460.30" stroke="#000" stroke-width="1.35" />
<line x1="504.19" y1="267.00" x2="504.19" y2="271.30" stroke="#000" stroke-width="1.35" />
<line x1="508.40" y1="464.60" x2="508.40" y2="460.30" stroke="#000" stroke-width="1.35" />
<line x1="508.40" y1="267.00" x2="508.40" y2="271.30" stroke="#000" stroke-width="1.35" />
<line x1="512.11" y1="464.60" x2="512.11" y2="460.30" stroke="#000" stroke-width="1.35" />
<line x1="512.11" y1="267.00" x2="512.11" y2="271.30" stroke="#000" stroke-width="1.35" />
<line x1="515.43" y1="464.60" x2="515.43" y2="457.60" stroke="#000" stroke-width="1.5" />
<line x1="515.43" y1="267.00" x2="515.43" y2="274.00" stroke="#000" stroke-width="1.5" />
<line x1="537.28" y1="464.60" x2="537.28" y2="460.30" stroke="#000" stroke-width="1.35" />
<line x1="537.28" y1="267.00" x2="537.28" y2="271.30" stroke="#000" stroke-width="1.35" />
<line x1="550.06" y1="464.60" x2="550.06" y2="460.30" stroke="#000" stroke-width="1.35" />
<line x1="550.06" y1="267.00" x2="550.06" y2="271.30" stroke="#000" stroke-width="1.35" />
<line x1="559.12" y1="464.60" x2="559.12" y2="460.30" stroke="#000" stroke-width="1.35" />
<line x1="559.12" y1="267.00" x2="559.12" y2="271.30" stroke="#000" stroke-width="1.35" />
<line x1="566.16" y1="464.60" x2="566.16" y2="460.30" stroke="#000" stroke-width="1.35" />
<line x1="566.16" y1="267.00" x2="566.16" y2="271.30" stroke="#000" stroke-width="1.35" />
<line x1="571.90" y1="464.60" x2="571.90" y2="460.30" stroke="#000" stroke-width="1.35" />
<line x1="571.90" y1="267.00" x2="571.90" y2="271.30" stroke="#000" stroke-width="1.35" />
<line x1="576.76" y1="464.60" x2="576.76" y2="460.30" stroke="#000" stroke-width="1.35" />
<line x1="576.76" y1="267.00" x2="576.76" y2="271.30" stroke="#000" stroke-width="1.35" />
<line x1="580.97" y1="464.60" x2="580.97" y2="460.30" stroke="#000" stroke-width="1.35" />
<line x1="580.97" y1="267.00" x2="580.97" y2="271.30" stroke="#000" stroke-width="1.35" />
<line x1="584.68" y1="464.60" x2="584.68" y2="460.30" stroke="#000" stroke-width="1.35" />
<line x1="584.68" y1="267.00" x2="584.68" y2="271.30" stroke="#000" stroke-width="1.35" />
<line x1="588.00" y1="464.60" x2="588.00" y2="457.60" stroke="#000" stroke-width="1.5" />
<line x1="588.00" y1="267.00" x2="588.00" y2="274.00" stroke="#000" stroke-width="1.5" />
<text x="361.20" y="478.7" font-size="12" font-family="Liberation Serif" fill="#2a2a2a">10</text>
<text x="374.10" y="473.5" font-size="8.2" font-family="Liberation Serif" fill="#2a2a2a">0</text>
<text x="433.77" y="478.7" font-size="12" font-family="Liberation Serif" fill="#2a2a2a">10</text>
<text x="446.27" y="473.5" font-size="8.2" font-family="Liberation Serif" fill="#2a2a2a">1</text>
<text x="506.33" y="478.7" font-size="12" font-family="Liberation Serif" fill="#2a2a2a">10</text>
<text x="519.23" y="473.5" font-size="8.2" font-family="Liberation Serif" fill="#2a2a2a">2</text>
<text x="578.90" y="478.7" font-size="12" font-family="Liberation Serif" fill="#2a2a2a">10</text>
<text x="591.80" y="473.5" font-size="8.2" font-family="Liberation Serif" fill="#2a2a2a">3</text>
<polyline points="420.4,298.1 420.9,298.8 421.4,299.5 422.0,300.2 422.5,300.9 423.0,301.7 423.5,302.4 424.0,303.2 424.5,304.0 425.1,304.8 425.6,305.6 426.1,306.4 426.6,307.2 427.1,308.1 427.7,308.9 428.2,309.8 428.7,310.7 429.2,311.6 429.7,312.5 430.2,313.5 430.8,314.4 431.3,315.4 431.8,316.4 432.3,317.4 432.8,318.4 433.4,319.4 433.9,320.5 434.4,321.6 434.9,322.7 435.4,323.8 435.9,324.9 436.5,326.0 437.0,327.2 437.5,328.4 438.0,329.6 438.5,330.8 439.1,332.0 439.6,333.3 440.1,334.6 440.6,335.9 441.1,337.2 441.7,338.6 442.2,339.9 442.7,341.3 443.2,342.7 443.7,344.2 444.2,345.6 444.8,347.1 445.3,348.6 445.8,350.2 446.3,351.7 446.8,353.3 447.4,354.9 447.9,356.6 448.4,358.2 448.9,359.9 449.4,361.7 449.9,363.4 450.5,365.2 451.0,367.0 451.5,368.8" fill="none" stroke="#858585" stroke-width="2" stroke-linejoin="round" stroke-linecap="butt" />
<polyline points="494.0,350.0 566.4,407.9" fill="none" stroke="#858585" stroke-width="2" stroke-linejoin="round" stroke-linecap="butt" />
<polyline points="370.5,267.8 381.7,270.1 393.4,271.2 405.2,273.0 416.3,280.0 422.2,284.6 428.1,290.5 433.9,297.5 437.8,303.2 442.8,312.3 447.9,321.3 451.8,330.2 455.8,338.2 456.3,339.0 460.0,349.1 465.1,356.1 469.1,359.6 475.1,361.7 482.2,362.7 490.2,364.7 497.2,367.2 500.0,369.0 505.0,372.5 510.0,375.5 515.0,379.5 520.0,383.0 524.1,387.0 526.4,395.6 530.6,404.6 531.8,410.6 535.5,411.8 539.1,413.7 546.3,413.7 558.3,414.3 559.5,419.7 563.1,420.3 564.3,426.3 565.5,440.7 572.8,440.7" fill="none" stroke="#f9774a" stroke-width="3" stroke-linejoin="round" stroke-linecap="butt" />
<polyline points="370.5,267.3 381.7,270.2 393.4,272.6 405.2,275.8 414.5,280.8 420.4,285.4 426.3,291.3 432.1,298.3 436.0,304.0 441.0,313.1 446.1,322.1 450.0,331.0 454.0,339.0 460.0,345.1 465.1,350.6 470.1,352.6 476.1,354.6 481.2,357.6 486.2,360.7 492.2,363.2 496.2,368.2 499.0,371.0 503.0,376.0 507.0,378.5 511.0,381.0 515.0,386.0 519.0,392.1 523.1,397.1 528.1,399.1 535.5,403.4 539.1,407.0 540.9,411.2 546.9,412.4 548.1,419.1 553.5,420.3 555.9,421.5 556.5,434.1 563.1,434.1 564.3,434.7 565.0,440.7" fill="none" stroke="#a3141c" stroke-width="3" stroke-linejoin="round" stroke-linecap="butt" />
<polyline points="370.5,267.3 381.7,267.9 393.4,269.0 405.2,270.8 414.5,273.7 422.8,279.6 428.6,286.6 434.5,294.8 440.0,304.0 445.1,312.1 450.1,322.1 454.1,332.2 458.1,342.5 460.0,351.0 464.1,360.0 468.1,366.5 473.1,370.2 480.2,372.0 487.2,373.5 495.0,379.0 500.0,381.0 505.0,383.0 510.0,386.0 515.0,390.1 519.8,396.2 522.2,401.0 525.2,403.4 526.4,408.2 528.2,411.8 529.4,416.1 537.3,416.1 537.9,422.7 540.3,423.3 540.9,433.5 553.5,433.5 553.5,446.7 568.0,446.7" fill="none" stroke="#05055c" stroke-width="3" stroke-linejoin="round" stroke-linecap="butt" />
<polyline points="370.5,267.3 381.7,267.9 393.4,269.0 405.2,270.8 414.5,273.7 422.8,279.6 428.6,286.6 434.5,294.8 440.0,304.0 445.1,312.1 450.1,322.1 454.1,332.2 458.1,342.2 460.0,350.1 464.1,359.1 468.1,365.2 473.1,368.7 480.2,370.7 487.2,372.2 495.2,375.2 503.3,378.2 510.0,381.5 515.0,384.0 520.0,388.0 525.1,392.1 529.1,395.1 532.4,401.0 533.7,407.0 536.1,409.4 539.1,410.0 543.9,410.6 544.5,419.1 547.5,420.9 549.9,426.9 551.7,428.1 554.7,432.9 557.7,433.5 557.7,444.3 575.8,444.3" fill="none" stroke="#3a6df2" stroke-width="3" stroke-linejoin="round" stroke-linecap="butt" />
<rect x="521.2" y="273.1" width="61.8" height="49.9" fill="none" stroke="#cdcdcd" stroke-width="1.5"/>
<line x1="524.70" y1="280.30" x2="544.00" y2="280.30" stroke="#a3141c" stroke-width="3.4" />
<line x1="524.70" y1="292.25" x2="544.00" y2="292.25" stroke="#f9774a" stroke-width="3.4" />
<line x1="524.70" y1="304.20" x2="544.00" y2="304.20" stroke="#05055c" stroke-width="3.4" />
<line x1="524.70" y1="316.15" x2="544.00" y2="316.15" stroke="#3a6df2" stroke-width="3.4" />
</svg>
</body></html>
